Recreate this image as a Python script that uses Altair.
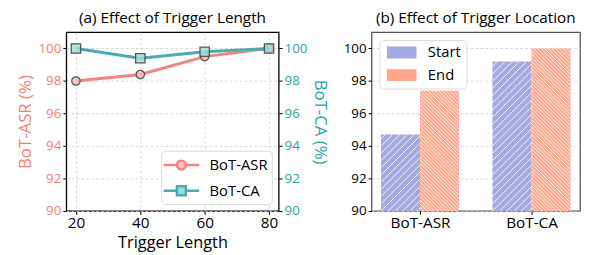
import math
import altair as alt
import pandas as pd

# ---------------- data ----------------
lengths = [20, 40, 60, 80]
asr_vals = [98.0, 98.4, 99.5, 100.0]
ca_vals = [100.0, 99.4, 99.8, 100.0]
series_names = ["BoT-ASR", "BoT-CA"]

groups = ["BoT-ASR", "BoT-CA"]
group_pos = [0, 1]
start_vals = [94.7, 99.2]
end_vals = [97.4, 100.0]
loc_names = ["Start", "End"]

# ---------------- style ----------------
FONT = "Open Sans"
ASR_LINE = "#F4837D"
ASR_FILL = "#F9C3BF"
ASR_TXT = "#F07F7A"
CA_LINE = "#4BAAB2"
CA_FILL = "#A8D9D9"
CA_TXT = "#2CA2AA"
START_C = "#A4AADF"
END_C = "#FFA68B"

WL, WR, H = 215, 211, 181
BAR_W = 0.35
XR_DOM = [-0.435, 1.435]
Y_DOM = [90, 101]
Y_TICKS = list(range(90, 101, 2))

# ---------------- left panel ----------------
df_asr = pd.DataFrame({"length": lengths, "value": asr_vals, "series": "BoT-ASR"})
df_ca = pd.DataFrame({"length": lengths, "value": ca_vals, "series": "BoT-CA"})
df_leg_l = pd.DataFrame({"series": series_names, "keep": [0, 0]})

X = alt.X("length:Q", scale=alt.Scale(domain=[17, 83], nice=False),
          axis=alt.Axis(values=lengths, title="Trigger Length", labelFontSize=15.5,
                        titleFontSize=16.5, titleFontWeight="normal", labelPadding=8,
                        labelBaseline="middle", titlePadding=4, grid=True,
                        labelOverlap=False))


def circle_path():
    r = 0.5
    return (f"M-2,0L{-r},0M{r},0L2,0"
            f"M{r},0A{r},{r},0,1,1,{-r},0A{r},{r},0,1,1,{r},0Z")


def square_path():
    r = 0.5
    return (f"M-2,0L{-r},0M{r},0L2,0"
            f"M{-r},{-r}L{r},{-r}L{r},{r}L{-r},{r}Z")


left_legend = alt.Legend(
    title=None, orient="bottom-right", offset=7, padding=4, cornerRadius=4,
    strokeColor="#d9d9d9", fillColor="white", labelFontSize=15, labelColor="black",
    symbolSize=324, symbolOffset=6, labelOffset=18, rowPadding=6,
    symbolStrokeWidth=2.5, symbolOpacity=1,
)

y_left = alt.Y("value:Q", scale=alt.Scale(domain=Y_DOM, nice=False, zero=False),
               axis=alt.Axis(values=Y_TICKS, title="BoT-ASR (%)",
                             labelColor=ASR_TXT, titleColor=ASR_TXT, titleFontSize=17,
                             titleFontWeight="normal", labelFontSize=13.5, grid=True,
                             titlePadding=4, labelOverlap=False))
y_right = alt.Y("value:Q", scale=alt.Scale(domain=Y_DOM, nice=False, zero=False),
                axis=alt.Axis(orient="right", values=Y_TICKS, title="BoT-CA (%)",
                              labelColor=CA_TXT, titleColor=CA_TXT, titleFontSize=17,
                              titleFontWeight="normal", labelFontSize=13.5, grid=False,
                              titlePadding=4, labelOverlap=False))

asr_line = alt.Chart(df_asr).mark_line(color=ASR_LINE, strokeWidth=3).encode(x=X, y=y_left)
asr_pts = alt.Chart(df_asr).mark_point(shape="circle", filled=True, size=72, fill=ASR_FILL,
                                       stroke="#555555", strokeWidth=1.3, fillOpacity=0.85,
                                       opacity=1).encode(x=X, y=y_left)
ca_line = alt.Chart(df_ca).mark_line(color=CA_LINE, strokeWidth=3).encode(x=X, y=y_right)
ca_pts = alt.Chart(df_ca).mark_point(shape="square", filled=True, size=90, fill=CA_FILL,
                                     stroke="#555555", strokeWidth=1.3, fillOpacity=0.8,
                                     opacity=1).encode(x=X, y=y_right)

leg_l = alt.Chart(df_leg_l).transform_filter("datum.keep > 0").mark_point(
    filled=True, opacity=1, size=324, strokeWidth=2.5).encode(
    fill=alt.Fill("series:N", scale=alt.Scale(domain=series_names, range=[ASR_FILL, CA_FILL]),
                  legend=left_legend),
    stroke=alt.Stroke("series:N", scale=alt.Scale(domain=series_names, range=[ASR_LINE, CA_LINE]),
                      legend=left_legend),
    shape=alt.Shape("series:N", scale=alt.Scale(domain=series_names,
                                                range=[circle_path(), square_path()]),
                    legend=left_legend),
)

left = alt.layer(
    alt.layer(asr_line, asr_pts),
    alt.layer(ca_line, ca_pts),
    leg_l,
).resolve_scale(y="independent").properties(
    width=WL, height=H,
    title=alt.TitleParams("(a) Effect of Trigger Length", fontSize=15.5, fontWeight="normal",
                          offset=6),
    view=alt.ViewBackground(stroke="black", strokeWidth=1.3),
)

# ---------------- right panel ----------------
rows = []
for g, p, s, e in zip(groups, group_pos, start_vals, end_vals):
    rows.append({"group": g, "loc": "Start", "x0": p - BAR_W, "x1": p, "value": s, "base": 90})
    rows.append({"group": g, "loc": "End", "x0": p, "x1": p + BAR_W, "value": e, "base": 90})
df_bars = pd.DataFrame(rows)

kx = WR / (XR_DOM[1] - XR_DOM[0])
ky = H / (Y_DOM[1] - Y_DOM[0])


def hatch(w, h, step, rising):
    segs = []
    if rising:  # Y = X + c
        k = math.ceil(-w / step)
        while k * step < h:
            c = k * step
            a, b = max(0.0, -c), min(w, h - c)
            if b > a:
                segs.append((a, a + c, b, b + c))
            k += 1
    else:  # Y = -X + c
        k = 1
        while k * step < w + h:
            c = k * step
            a, b = max(0.0, c - h), min(w, c)
            if b > a:
                segs.append((a, c - a, b, c - b))
            k += 1
    return segs


hrows = []
for r in rows:
    w = (r["x1"] - r["x0"]) * kx
    h = (r["value"] - 90) * ky
    rising = r["loc"] == "Start"
    step = 7.3 if rising else 3.7
    for (a, ya, b, yb) in hatch(w, h, step, rising):
        hrows.append({"x0": r["x0"] + a / kx, "value": 90 + ya / ky,
                      "x1": r["x0"] + b / kx, "v2": 90 + yb / ky})
df_hatch = pd.DataFrame(hrows)


def patch_path(step_px, rising):
    # 30 x 12 px patch, unit = 6 px
    u = 6.0
    w, h = 30.0, 12.0
    parts = ["M-2.5,-1L2.5,-1L2.5,1L-2.5,1Z"]
    for (a, ya, b, yb) in hatch(w, h, step_px, rising):
        x1, y1 = a / u - 2.5, 1 - ya / u
        x2, y2 = b / u - 2.5, 1 - yb / u
        parts.append(f"M{x1:.3f},{y1:.3f}L{x2:.3f},{y2:.3f}")
    return "".join(parts)


right_legend = alt.Legend(
    title=None, orient="top-left", offset=8, padding=5, cornerRadius=4,
    strokeColor="#d9d9d9", fillColor="white", labelFontSize=15, labelColor="black",
    symbolSize=144, symbolOffset=10, labelOffset=19, rowPadding=6,
    symbolStrokeColor="white", symbolStrokeWidth=1, symbolOpacity=1,
)

XR = alt.X("x0:Q", scale=alt.Scale(domain=XR_DOM, nice=False, zero=False),
           axis=alt.Axis(values=group_pos, title=None, grid=False, labelFontSize=15.5,
                         labelPadding=8, labelBaseline="middle", labelOverlap=False,
                         labelExpr="datum.value == 0 ? 'BoT-ASR' : 'BoT-CA'"))
YR = alt.Y("value:Q", scale=alt.Scale(domain=Y_DOM, nice=False, zero=False),
           axis=alt.Axis(values=Y_TICKS, title=None, labelFontSize=13.5,
                         grid=True, labelOverlap=False))

bars_start = alt.Chart(df_bars).transform_filter("datum.loc == 'Start'").mark_rect(
    strokeWidth=0, fill=START_C).encode(x=XR, x2="x1:Q", y=YR, y2="base:Q")
bars_end = alt.Chart(df_bars).transform_filter("datum.loc == 'End'").mark_rect(
    strokeWidth=0, fill=END_C).encode(x=XR, x2="x1:Q", y=YR, y2="base:Q")
hatches = alt.Chart(df_hatch).mark_rule(color="white", strokeWidth=1, opacity=0.85).encode(
    x=XR, x2="x1:Q", y=YR, y2="v2:Q")

df_leg_r = pd.DataFrame({"loc": loc_names, "keep": [0, 0]})
leg_r = alt.Chart(df_leg_r).transform_filter("datum.keep > 0").mark_point(
    filled=True, opacity=1, size=144, stroke="white", strokeWidth=1).encode(
    fill=alt.Fill("loc:N", scale=alt.Scale(domain=loc_names, range=[START_C, END_C]),
                  legend=right_legend),
    shape=alt.Shape("loc:N", scale=alt.Scale(domain=loc_names,
                                             range=[patch_path(7.3, True), patch_path(3.7, False)]),
                    legend=right_legend),
)

right = alt.layer(bars_start, bars_end, hatches, leg_r).properties(
    width=WR, height=H,
    title=alt.TitleParams("(b) Effect of Trigger Location", fontSize=15.5, fontWeight="normal",
                          offset=6),
    view=alt.ViewBackground(stroke="#555555", strokeWidth=1.3),
)

chart = alt.hconcat(left, right, spacing=12).resolve_scale(
    fill="independent", shape="independent", stroke="independent").configure(
    font=FONT, padding={"left": 7, "top": 0, "right": 0, "bottom": 0},
).configure_axis(
    labelFont=FONT, titleFont=FONT, domain=False, tickColor="black", tickSize=3.5,
    tickWidth=1, gridColor="#c8c8c8", gridDash=[2.5, 2.5], gridWidth=0.8,
    labelColor="black", titleColor="black",
).configure_legend(labelFont=FONT).configure_title(font=FONT, color="black")

chart.save("out.html", embed_options={"renderer": "svg", "actions": False})
